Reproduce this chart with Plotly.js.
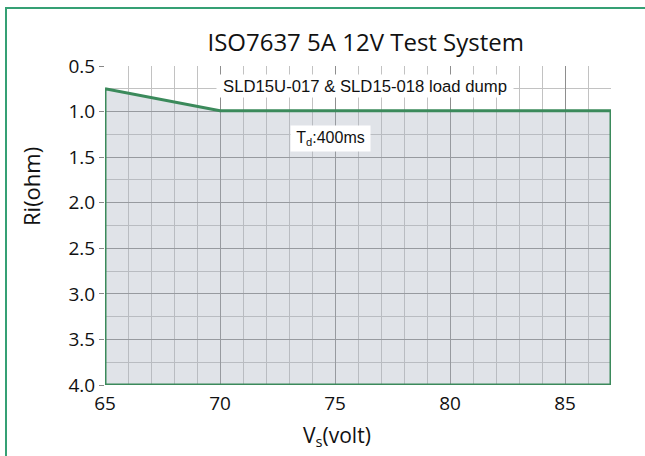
<!DOCTYPE html>
<html><head><meta charset="utf-8">
<script src="https://cdn.plot.ly/plotly-3.0.1.min.js"></script>
<style>
html,body{margin:0;padding:0;background:#fff;}
#wrap{position:relative;width:645px;height:456px;overflow:hidden;}
#frame{position:absolute;left:5px;top:7px;width:660px;height:470px;border:2px solid #35a074;box-sizing:border-box;pointer-events:none;}
#chart{position:absolute;left:0;top:0;width:645px;height:456px;}
</style></head>
<body><div id="wrap"><div id="chart"></div><div id="frame"></div></div>
<script>
// Boundary of the load-dump region (Vs in volt, Ri in ohm)
var vs = [65, 70, 87, 87, 65, 65];
var ri = [0.75, 0.99, 0.99, 4.0, 4.0, 0.75];
var xTicks = [65, 70, 75, 80, 85];
var yTicks = [0.5, 1.0, 1.5, 2.0, 2.5, 3.0, 3.5, 4.0];
var titleText = 'ISO7637 5A 12V Test System';
var xTitle = 'V<sub>s</sub>(volt)';
var yTitle = 'Ri(ohm)';
var noteText = 'SLD15U-017 & SLD15-018 load dump';
var tdText = 'T<sub>d</sub>:400ms';

var trace = {
  x: vs, y: ri, type: 'scatter', mode: 'lines',
  fill: 'toself', fillcolor: 'rgba(170,178,190,0.36)',
  line: {color: '#3b8a5b', width: 3},
  hoverinfo: 'skip', showlegend: false
};
var font = '"Open Sans", sans-serif';
var annFont = 'Liberation Sans, Arial, sans-serif';
var layout = {
  width: 645, height: 456,
  margin: {l: 105, r: 34, t: 66, b: 71},
  paper_bgcolor: '#fff', plot_bgcolor: '#fff',
  font: {family: font, color: '#111'},
  title: {text: titleText, font: {size: 24, family: font, color: '#111'},
          xref: 'container', yref: 'container', x: 0.567, xanchor: 'center', y: 0.906, yanchor: 'middle'},
  xaxis: {
    range: [65, 87], tickvals: xTicks, ticktext: xTicks.map(String),
    showgrid: true, gridcolor: '#8e8e8e', gridwidth: 1,
    minor: {dtick: 1, tick0: 65, showgrid: true, gridcolor: '#c2c2c2', gridwidth: 1, ticks: ''},
    ticks: 'outside', ticklen: 1, tickcolor: 'rgba(0,0,0,0)',
    tickfont: {size: 19, family: font, color: '#111'},
    zeroline: false, showline: false
  },
  yaxis: {
    range: [4.0, 0.5], tickvals: yTicks, ticktext: yTicks.map(function(v){return v.toFixed(1);}),
    showgrid: true, gridcolor: '#8e8e8e', gridwidth: 1,
    minor: {dtick: 0.25, tick0: 0.5, showgrid: true, gridcolor: '#c2c2c2', gridwidth: 1, ticks: ''},
    ticks: 'outside', ticklen: 5, tickcolor: '#888',
    tickfont: {size: 19, family: font, color: '#111'},
    zeroline: false, showline: false
  },
  annotations: [
    {x: 76.3, y: 0.72, xref: 'x', yref: 'y', text: noteText, showarrow: false,
     font: {family: annFont, size: 16.7, color: '#111'},
     bgcolor: '#fff', width: 296, height: 22, borderpad: 0},
    {x: 74.8, y: 1.30, xref: 'x', yref: 'y', text: tdText, showarrow: false,
     font: {family: annFont, size: 16, color: '#111'},
     bgcolor: '#fff', width: 79, height: 25, borderpad: 0},
    {x: 337/645, y: 1 - 436/456, xref: 'paper', yref: 'paper', text: xTitle, showarrow: false,
     font: {family: font, size: 21, color: '#111'}, xanchor: 'center', yanchor: 'middle'},
    {x: 31/645, y: 1 - 187/456, xref: 'paper', yref: 'paper', text: yTitle, showarrow: false,
     textangle: -90, font: {family: font, size: 22, color: '#111'}, xanchor: 'center', yanchor: 'middle'}
  ]
};
// convert paper-positioned axis titles from full-figure fractions to plot-area fractions
(function(){
  var W = 645, H = 456, m = layout.margin;
  [2,3].forEach(function(i){
    var a = layout.annotations[i];
    var px = a.x * W, py = (1 - a.y) * H;
    a.x = (px - m.l) / (W - m.l - m.r);
    a.y = 1 - (py - m.t) / (H - m.t - m.b);
  });
})();
Plotly.newPlot('chart', [trace], layout, {displayModeBar: false, staticPlot: true});
</script></body></html>
